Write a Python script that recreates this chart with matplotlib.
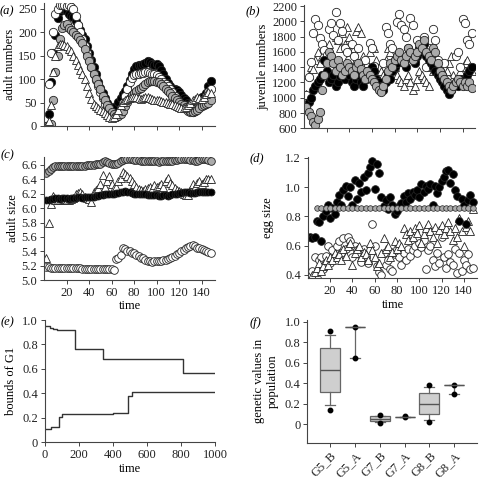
import numpy as np
import matplotlib
matplotlib.use("Agg")
import matplotlib.pyplot as plt

plt.rcParams['font.family'] = ['Liberation Serif', 'DejaVu Serif']
plt.rcParams['font.size'] = 9

# sampling times for panels a-d
time = np.arange(2, 150, 2)

# (a) adult numbers
adult_black = [0, 25, 95, 155, 195, 230, 245, 250, 250, 245,
               240, 235, 232, 225, 215, 205, 195, 185, 170, 155,
               140, 125, 110, 95, 82, 70, 60, 50, 42, 38,
               38, 42, 52, 60, 68, 75, 85, 98, 112, 122,
               128, 130, 130, 132, 135, 138, 136, 132, 130, 132,
               128, 120, 110, 100, 92, 85, 80, 78, 76, 72,
               66, 60, 55, 50, 47, 45, 47, 52, 58, 62,
               65, 70, 85, 97]
adult_white = [0, 90, 155, 200, 240, 250, 258, 258, 258, 256,
               258, 255, 250, 235, 215, 200, 185, 170, 155, 140,
               125, 112, 98, 85, 72, 60, 48, 38, 28, 22,
               20, 20, 25, 38, 50, 65, 80, 95, 102, 108,
               110, 112, 113, 114, 115, 116, 114, 112, 110, 108,
               104, 100, 95, 90, 85, 78, 72, 65, 58, 52,
               46, 40, 36, 32, 30, 30, 33, 38, 45, 52,
               58, 65, 72, 80]
adult_grey = [0, 0, 5, 55, 115, 150, 185, 210, 215, 218,
              210, 205, 200, 195, 190, 183, 177, 165, 150, 138,
              125, 110, 100, 90, 78, 65, 55, 45, 38, 30,
              25, 22, 22, 25, 32, 42, 52, 60, 66, 70,
              74, 78, 82, 86, 90, 94, 96, 97, 96, 95,
              93, 90, 85, 80, 75, 70, 65, 60, 56, 52,
              48, 44, 40, 36, 33, 30, 32, 35, 38, 42,
              45, 48, 50, 55]
adult_tri = [0, 10, 45, 115, 150, 170, 175, 175, 172, 170,
             165, 160, 150, 140, 130, 120, 110, 100, 85, 70,
             58, 48, 42, 38, 35, 32, 28, 24, 20, 18,
             20, 25, 35, 45, 52, 56, 58, 60, 62, 62,
             62, 60, 58, 60, 62, 62, 60, 58, 56, 55,
             55, 54, 52, 52, 50, 48, 46, 44, 42, 40,
             38, 38, 40, 45, 50, 55, 58, 62, 60, 58,
             62, 68, 72, 70]

# (b) juvenile numbers
juv_white = [1030, 1270, 1470, 1850, 2030, 1950, 1780, 1700, 1620, 1560,
             1900, 1980, 1820, 2120, 1750, 1980, 1880, 1650, 1600, 1500,
             1700, 1550, 1420, 1650, 1350, 1300, 1500, 1250, 1720, 1650,
             1420, 1200, 1150, 1100, 1450, 1920, 1850, 1700, 1650, 1500,
             1990, 2100, 1950, 1900, 1800, 1650, 2050, 1950, 1500, 1750,
             1600, 1700, 1800, 1400, 1650, 1550, 1900, 1750, 1500, 1350,
             1300, 1450, 1250, 1150, 1100, 1200, 1550, 1600, 1400, 2030,
             1980, 1750, 1700, 1850]
juv_tri = [1050, 1300, 1400, 1380, 1500, 1600, 1450, 1550, 1650, 1500,
           1700, 1600, 1500, 1800, 1750, 1650, 1850, 1700, 1920, 1800,
           1700, 1650, 1880, 1930, 1850, 1550, 1500, 1450, 1600, 1700,
           1650, 1500, 1400, 1350, 1300, 1500, 1650, 1600, 1450, 1400,
           1300, 1250, 1200, 1150, 1250, 1300, 1200, 1100, 1150, 1250,
           1350, 1300, 1250, 1200, 1150, 1400, 1350, 1500, 1450, 1300,
           1250, 1200, 1350, 1450, 1550, 1300, 1200, 1250, 1350, 1400,
           1450, 1500, 1400, 1350]
juv_black = [880, 950, 1000, 1100, 1150, 1200, 1250, 1300, 1500, 1350,
             1200, 1250, 1300, 1150, 1200, 1280, 1350, 1250, 1400, 1300,
             1200, 1150, 1250, 1300, 1200, 1150, 1250, 1350, 1300, 1400,
             1350, 1250, 1200, 1150, 1100, 1200, 1300, 1250, 1350, 1400,
             1450, 1550, 1500, 1450, 1400, 1550, 1600, 1500, 1450, 1550,
             1650, 1600, 1700, 1550, 1500, 1450, 1400, 1350, 1300, 1250,
             1200, 1150, 1100, 1050, 1100, 1150, 1200, 1150, 1250, 1200,
             1250, 1300, 1350, 1400]
juv_grey = [880, 820, 760, 680, 650, 720, 820, 1100, 1300, 1450,
            1600, 1550, 1450, 1350, 1500, 1400, 1300, 1350, 1450, 1400,
            1350, 1300, 1400, 1450, 1380, 1300, 1250, 1350, 1300, 1250,
            1200, 1150, 1100, 1080, 1150, 1250, 1350, 1450, 1400, 1500,
            1550, 1600, 1500, 1450, 1550, 1650, 1600, 1500, 1550, 1600,
            1700, 1650, 1750, 1600, 1550, 1500, 1650, 1600, 1450, 1350,
            1300, 1250, 1200, 1150, 1100, 1150, 1200, 1250, 1200, 1150,
            1200, 1150, 1200, 1130]

# (c) adult size
size_grey = [6.49, 6.52, 6.55, 6.57, 6.58, 6.58, 6.59, 6.58, 6.58, 6.58,
             6.58, 6.58, 6.58, 6.58, 6.59, 6.59, 6.59, 6.59, 6.60, 6.60,
             6.60, 6.60, 6.61, 6.61, 6.62, 6.64, 6.65, 6.64, 6.63, 6.62,
             6.62, 6.62, 6.63, 6.65, 6.67, 6.69, 6.69, 6.68, 6.68, 6.67,
             6.67, 6.67, 6.66, 6.66, 6.66, 6.66, 6.65, 6.65, 6.65, 6.65,
             6.64, 6.65, 6.65, 6.66, 6.66, 6.66, 6.66, 6.67, 6.67, 6.68,
             6.68, 6.68, 6.68, 6.68, 6.67, 6.67, 6.66, 6.66, 6.67, 6.68,
             6.69, 6.68, 6.67, 6.65]
size_black = [6.11, 6.12, 6.13, 6.13, 6.14, 6.14, 6.13, 6.14, 6.14, 6.14,
              6.13, 6.14, 6.14, 6.14, 6.15, 6.15, 6.14, 6.15, 6.15, 6.15,
              6.15, 6.16, 6.17, 6.17, 6.18, 6.18, 6.19, 6.19, 6.20, 6.20,
              6.20, 6.21, 6.21, 6.22, 6.23, 6.24, 6.23, 6.22, 6.21, 6.20,
              6.20, 6.19, 6.19, 6.19, 6.19, 6.18, 6.18, 6.18, 6.18, 6.18,
              6.17, 6.17, 6.18, 6.18, 6.17, 6.18, 6.19, 6.20, 6.20, 6.21,
              6.21, 6.22, 6.22, 6.22, 6.21, 6.21, 6.21, 6.22, 6.22, 6.22,
              6.22, 6.22, 6.23, 6.23]
size_white = [5.18, 5.18, 5.17, 5.17, 5.17, 5.17, 5.17, 5.17, 5.17, 5.17,
              5.17, 5.17, 5.17, 5.17, 5.17, 5.17, 5.16, 5.16, 5.16, 5.16,
              5.16, 5.16, 5.16, 5.16, 5.15, 5.15, 5.15, 5.15, 5.15, 5.15,
              5.14, 5.29, 5.31, 5.35, 5.45, 5.43, 5.41, 5.40, 5.38, 5.37,
              5.35, 5.33, 5.31, 5.30, 5.28, 5.27, 5.26, 5.25, 5.27, 5.27,
              5.26, 5.27, 5.28, 5.28, 5.29, 5.31, 5.32, 5.34, 5.36, 5.38,
              5.40, 5.42, 5.44, 5.46, 5.48, 5.49, 5.48, 5.45, 5.44, 5.43,
              5.42, 5.41, 5.39, 5.37]
size_tri = [5.31, 5.79, 6.06, 6.17, 6.12, 6.12, 6.11, 6.12, 6.13, 6.12,
            6.12, 6.13, 6.14, 6.20, 6.21, 6.22, 6.20, 6.15, 6.14, 6.13,
            6.09, 6.22, 6.25, 6.28, 6.33, 6.46, 6.30, 6.38, 6.45, 6.33,
            6.28, 6.30, 6.38, 6.42, 6.50, 6.48, 6.45, 6.42, 6.38, 6.34,
            6.30, 6.27, 6.25, 6.24, 6.26, 6.28, 6.30, 6.27, 6.32, 6.29,
            6.31, 6.34, 6.30, 6.38, 6.42, 6.35, 6.32, 6.28, 6.25, 6.24,
            6.22, 6.20, 6.18, 6.18, 6.25, 6.33, 6.30, 6.35, 6.38, 6.33,
            6.37, 6.40, 6.41, 6.40]

# (d) egg size
egg_black = [0.66, 0.65, 0.66, 0.77, 0.76, 0.63, 0.80, 0.84, 0.88, 0.79,
             0.86, 0.82, 0.90, 0.95, 0.88, 0.98, 1.01, 0.94, 1.00, 0.88,
             1.05, 0.92, 1.03, 0.97, 1.07, 0.98, 1.10, 1.14, 1.18, 0.99,
             1.16, 1.10, 0.93, 0.87, 0.91, 0.85, 0.93, 0.88, 0.82, 0.84,
             0.87, 0.89, 0.94, 0.90, 0.96, 0.92, 0.97, 0.95, 0.98, 0.93,
             1.02, 0.97, 1.01, 0.99, 1.02, 0.88, 1.01, 0.96, 1.00, 1.04,
             1.07, 1.11, 1.12, 1.03, 1.09, 0.98, 0.94, 0.77, 0.92, 0.88,
             0.75, 0.91, 0.95, 0.90]
egg_white = [0.40, 0.43, 0.52, 0.38, 0.50, 0.52, 0.44, 0.53, 0.60, 0.48,
             0.57, 0.52, 0.60, 0.63, 0.55, 0.65, 0.58, 0.66, 0.63, 0.52,
             0.60, 0.57, 0.54, 0.49, 0.58, 0.53, 0.48, 0.57, 0.75, 0.60,
             0.46, 0.42, 0.40, 0.55, 0.47, 0.50, 0.44, 0.43, 0.54, 0.58,
             0.52, 0.47, 0.55, 0.50, 0.58, 0.53, 0.57, 0.60, 0.55, 0.62,
             0.59, 0.64, 0.44, 0.57, 0.60, 0.50, 0.46, 0.55, 0.48, 0.66,
             0.52, 0.45, 0.54, 0.49, 0.47, 0.58, 0.41, 0.55, 0.43, 0.50,
             0.47, 0.54, 0.44, 0.45]
egg_tri = [0.35, 0.40, 0.42, 0.45, 0.48, 0.43, 0.46, 0.50, 0.47, 0.52,
           0.50, 0.55, 0.52, 0.54, 0.50, 0.58, 0.53, 0.60, 0.62, 0.47,
           0.55, 0.58, 0.60, 0.52, 0.56, 0.54, 0.50, 0.62, 0.57, 0.52,
           0.46, 0.48, 0.55, 0.65, 0.58, 0.60, 0.52, 0.56, 0.63, 0.58,
           0.62, 0.60, 0.72, 0.68, 0.64, 0.70, 0.66, 0.72, 0.69, 0.74,
           0.62, 0.68, 0.72, 0.75, 0.70, 0.66, 0.73, 0.62, 0.71, 0.74,
           0.68, 0.72, 0.76, 0.70, 0.64, 0.72, 0.66, 0.79, 0.70, 0.60,
           0.73, 0.77, 0.70, 0.85]
egg_grey_time = np.arange(8, 150, 4)
egg_grey = [0.855, 0.855, 0.855, 0.855, 0.855, 0.855, 0.855, 0.855, 0.855,
            0.855, 0.855, 0.855, 0.855, 0.855, 0.855, 0.855, 0.855, 0.855,
            0.855, 0.855, 0.855, 0.855, 0.855, 0.855, 0.855, 0.855, 0.855,
            0.855, 0.855, 0.855, 0.855, 0.855, 0.855, 0.855, 0.855, 0.855]

# (e) bounds of G1, step changes
upper_t = [0, 29, 49, 69, 176, 339, 814, 1000]
upper_v = [0.951, 0.937, 0.924, 0.916, 0.760, 0.682, 0.565, 0.565]
lower_t = [0, 35, 82, 98, 402, 490, 510, 1000]
lower_v = [0.107, 0.124, 0.203, 0.232, 0.237, 0.378, 0.414, 0.414]

# (f) genetic values
gen_labels = ['G5_B', 'G5_A', 'G7_B', 'G7_A', 'G8_B', 'G8_A']
gen_med = [0.526, 0.954, 0.055, 0.075, 0.195, 0.380]
gen_q1 = [0.318, 0.954, 0.030, 0.075, 0.097, 0.380]
gen_q3 = [0.740, 0.954, 0.081, 0.075, 0.305, 0.380]
gen_lo = [0.190, 0.646, 0.025, 0.075, 0.039, 0.300]
gen_hi = [0.870, 0.954, 0.085, 0.075, 0.360, 0.380]
gen_dots = [[0.91, 0.143], [0.954, 0.646], [0.094, 0.013],
            [0.081, 0.071], [0.383, 0.02], [0.38, 0.30]]

GREY = '#ababab'
EDGE = '#222222'

fig = plt.figure(figsize=(4.81, 4.79), dpi=100)
ax_a = fig.add_axes([0.0915, 0.737, 0.3555, 0.256])
ax_b = fig.add_axes([0.632, 0.732, 0.3555, 0.257])
ax_c = fig.add_axes([0.0915, 0.4154, 0.3555, 0.2574])
ax_d = fig.add_axes([0.640, 0.419, 0.352, 0.254])
ax_e = fig.add_axes([0.0936, 0.0766, 0.3534, 0.2553])
ax_f = fig.add_axes([0.639, 0.0758, 0.352, 0.256])


def scatter(ax, x, y, marker, face, ms=6.0, lw=0.6):
    ax.plot(x, y, linestyle='none', marker=marker, markersize=ms,
            markerfacecolor=face, markeredgecolor=EDGE, markeredgewidth=lw)


def style(ax):
    for side in ('top', 'right'):
        ax.spines[side].set_visible(False)
    for side in ('left', 'bottom'):
        ax.spines[side].set_color('#444444')
        ax.spines[side].set_linewidth(0.8)
    ax.tick_params(direction='out', length=3, width=0.7, colors='#444444',
                   labelcolor='#222222', labelsize=9, pad=2)


# (a)
scatter(ax_a, time, adult_black, 'o', 'black')
scatter(ax_a, time, adult_white, 'o', 'white')
scatter(ax_a, time, adult_grey, 'o', GREY)
scatter(ax_a, time, adult_tri, '^', 'white')
ax_a.set_xlim(0, 152)
ax_a.set_ylim(0, 262)
ax_a.set_yticks(range(0, 251, 50))
ax_a.set_xticks(range(20, 141, 20))
ax_a.set_xticklabels([])
ax_a.set_ylabel('adult numbers', labelpad=2)

# (b)
scatter(ax_b, time, juv_tri, '^', 'white')
scatter(ax_b, time, juv_white, 'o', 'white')
scatter(ax_b, time, juv_black, 'o', 'black')
scatter(ax_b, time, juv_grey, 'o', GREY)
ax_b.set_xlim(0, 151)
ax_b.set_ylim(600, 2210)
ax_b.set_yticks(range(600, 2201, 200))
ax_b.set_xticks(range(20, 141, 20))
ax_b.set_xticklabels([])
ax_b.set_ylabel('juvenile numbers', labelpad=2)

# (c)
scatter(ax_c, time, size_white, 'o', 'white', ms=5.5)
scatter(ax_c, time, size_grey, 'o', GREY, ms=5.5)
scatter(ax_c, time, size_tri, '^', 'white', ms=6)
scatter(ax_c, time, size_black, 'o', 'black', ms=5)
ax_c.set_xlim(0, 152)
ax_c.set_ylim(5.0, 6.715)
ax_c.set_yticks(np.arange(5.0, 6.61, 0.2))
ax_c.set_yticklabels([f'{v:.1f}' for v in np.arange(5.0, 6.61, 0.2)])
ax_c.set_xticks(range(20, 141, 20))
ax_c.set_xlabel('time', labelpad=1)
ax_c.set_ylabel('adult size', labelpad=2)

# (d)
scatter(ax_d, time, egg_white, 'o', 'white', ms=5.5)
scatter(ax_d, time, egg_tri, '^', 'white', ms=6)
scatter(ax_d, time, egg_black, 'o', 'black', ms=5.5)
scatter(ax_d, egg_grey_time, egg_grey, 'o', GREY, ms=4, lw=0.5)
ax_d.set_xlim(0, 152)
ax_d.set_ylim(0.377, 1.209)
ax_d.set_yticks(np.arange(0.4, 1.21, 0.2))
ax_d.set_yticklabels([f'{v:.1f}' for v in np.arange(0.4, 1.21, 0.2)])
ax_d.set_xticks(range(20, 141, 20))
ax_d.set_xlabel('time', labelpad=1)
ax_d.set_ylabel('egg size', labelpad=8)

# (e)
ax_e.step(upper_t, upper_v, where='post', color='#333333', lw=1.0)
ax_e.step(lower_t, lower_v, where='post', color='#333333', lw=1.0)
ax_e.set_xlim(0, 1000)
ax_e.set_ylim(0, 1.0)
ax_e.set_yticks(np.arange(0, 1.01, 0.2))
ax_e.set_yticklabels(['0'] + [f'{v:.1f}' for v in np.arange(0.2, 1.01, 0.2)])
ax_e.set_xticks(range(0, 1001, 200))
ax_e.set_xlabel('time', labelpad=1)
ax_e.set_ylabel('bounds of G1', labelpad=4)

# (f)
positions = np.arange(1, len(gen_labels) + 1)
stats = []
for i, name in enumerate(gen_labels):
    stats.append({'label': name, 'med': gen_med[i], 'q1': gen_q1[i],
                  'q3': gen_q3[i], 'whislo': gen_lo[i], 'whishi': gen_hi[i],
                  'fliers': []})
ax_f.bxp(stats, positions=positions, widths=0.8, patch_artist=True,
         boxprops=dict(facecolor='#cfcfcf', edgecolor='#666666', lw=0.9),
         medianprops=dict(color='#555555', lw=1.0),
         whiskerprops=dict(color='#666666', lw=0.9),
         capprops=dict(color='#666666', lw=0.9), capwidths=0.4)
for p, dots in zip(positions, gen_dots):
    ax_f.plot([p] * len(dots), dots, 'o', color='black', markersize=3.2)
ax_f.set_xlim(0.09, 6.9)
ax_f.set_ylim(-0.179, 1.017)
ax_f.set_yticks(np.arange(0, 1.01, 0.2))
ax_f.set_yticklabels(['0'] + [f'{v:.1f}' for v in np.arange(0.2, 1.01, 0.2)])
ax_f.set_xticks(positions)
ax_f.set_xticklabels(gen_labels, rotation=45, ha='right', rotation_mode='anchor')
ax_f.set_ylabel('genetic values in\npopulation', labelpad=4)

for ax in (ax_a, ax_b, ax_c, ax_d, ax_e, ax_f):
    style(ax)

# panel letters
letters = [('a', 7, 11), ('b', 253, 11), ('c', 7, 155), ('d', 257, 158),
           ('e', 7, 322), ('f', 255, 323)]
for letter, px, py in letters:
    fig.text(px / 481, 1 - py / 479, f'({letter})', ha='center', va='center',
             fontsize=9, style='italic')

fig.savefig('out.png', dpi=100)
